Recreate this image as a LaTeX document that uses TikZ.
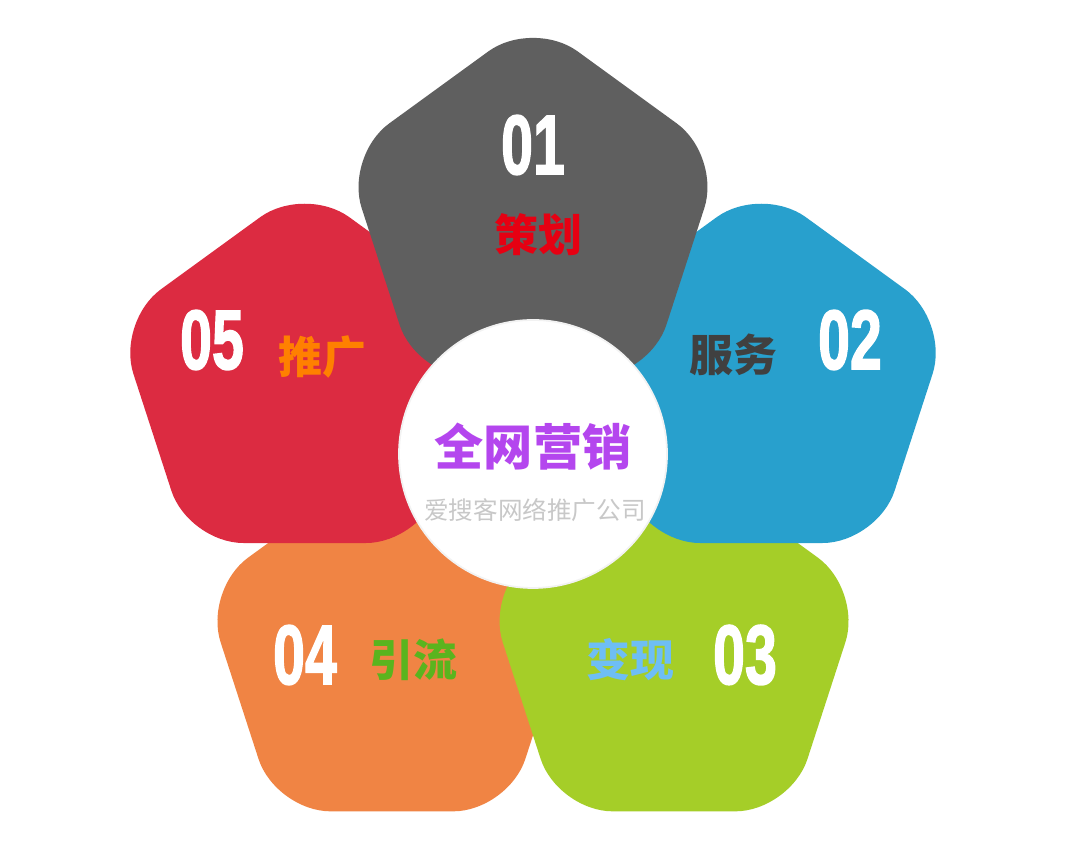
\documentclass[tikz,border=0pt]{standalone}
\usepackage{fontspec}
\usepackage{graphicx}
\setmainfont{Liberation Sans}
\newfontfamily\sodam{Liberation Sans}[BoldFeatures={FakeBold=2}]
\newfontfamily\cjk{Noto Sans CJK SC}
\definecolor{xam}{RGB}{95,95,95}
\definecolor{xanhduong}{RGB}{40,160,205}
\definecolor{do}{RGB}{220,43,65}
\definecolor{cam}{RGB}{240,132,68}
\definecolor{xanhla}{RGB}{165,206,40}
\definecolor{chudo}{RGB}{230,0,18}
\definecolor{chucam}{RGB}{255,128,0}
\definecolor{chuxam}{RGB}{64,64,64}
\definecolor{chutim}{RGB}{180,70,238}
\definecolor{chunhat}{RGB}{200,200,200}
\definecolor{chula}{RGB}{90,180,30}
\definecolor{chulam}{RGB}{110,190,245}
\begin{document}
\begin{tikzpicture}[x=0.02cm,y=0.02cm,
	canh/.style={rounded corners=1.1cm},
	so/.style={text=white,font=\sodam\bfseries\fontsize{48}{48}\selectfont},
	chu/.style={font=\cjk\bfseries\fontsize{25}{25}\selectfont}]
			\useasboundingbox[fill=white] (0,0) rectangle (1080,857);
			\foreach \goc/\mau in {234/cam,306/xanhla,18/xanhduong,162/do,90/xam}
			\fill[\mau,canh] (533,400) ++(\goc:240) +(90:198) -- +(162:198) -- +(234:198) -- +(306:198) -- +(18:198) -- cycle;
			\filldraw[fill=white,draw=black!5,line width=1pt] (533,403) circle(134);
			\node[so] (n01) at (533,712) {\scalebox{0.68}[1]{01}};
			\node[chu,text=chudo] (t01) at (538,622) {策划};
			\node[so] (n02) at (850,517) {\scalebox{0.68}[1]{02}};
			\node[chu,text=chuxam] (t02) at (733,502) {服务};
			\node[so] (n03) at (745,202) {\scalebox{0.68}[1]{03}};
			\node[chu,text=chulam] (t03) at (630,197) {变现};
			\node[so] (n04) at (305,202) {\scalebox{0.68}[1]{04}};
			\node[chu,text=chula] (t04) at (413,197) {引流};
			\node[so] (n05) at (212,517) {\scalebox{0.68}[1]{05}};
			\node[chu,text=chucam] (t05) at (322,500) {推广};
			\node[chu,text=chutim,font=\cjk\bfseries\fontsize{28}{28}\selectfont] (tam) at (533,410) {全网营销};
			\node[text=chunhat,font=\cjk\fontsize{14}{14}\selectfont] (cty) at (535,347) {爱搜客网络推广公司};
\end{tikzpicture}
\end{document}
